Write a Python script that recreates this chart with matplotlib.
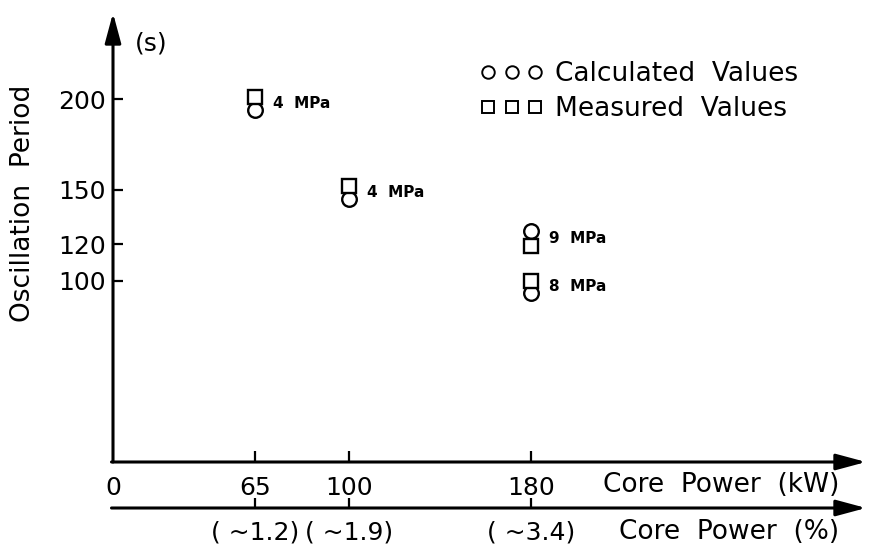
import numpy as np
import matplotlib.pyplot as plt
from matplotlib.lines import Line2D

# core power (kW), relative power labels and pressure at each operating point
power_kw = [65, 100, 180, 180]
pressure_labels = ['4  MPa', '4  MPa', '9  MPa', '8  MPa']
measured = [201, 152, 119, 100]      # oscillation period (s), squares
calculated = [194, 145, 127, 93]     # oscillation period (s), circles

kw_ticks = [0, 65, 100, 180]
pct_ticks = [65, 100, 180]
pct_labels = ['( ~1.2)', '( ~1.9)', '( ~3.4)']
period_ticks = [100, 120, 150, 200]

plt.rcParams['font.family'] = ['DejaVu Sans']
plt.rcParams['font.size'] = 18

W, H = 869, 549
fig = plt.figure(figsize=(W / 100, H / 100), dpi=100)

# power axis is hand-spaced: piecewise linear between the drawn ticks
kw_knots = [0, 65, 100, 180, 325]
pos_knots = [0, 142, 236, 418, 753]
def kw_fwd(v):
    return np.interp(v, kw_knots, pos_knots)
def kw_inv(p):
    return np.interp(p, pos_knots, kw_knots)

# main axes: origin at pixel (113, 462)
x0, y0, x1, y1 = 113, 462, 866, 13
ax = fig.add_axes([x0 / W, 1 - y0 / H, (x1 - x0) / W, (y0 - y1) / H])
ax.set_xscale('function', functions=(kw_fwd, kw_inv))
ax.set_xlim(0, 325)
ax.set_ylim(0, (y0 - y1) / 1.815)
for s in ax.spines.values():
    s.set_visible(False)

arrow = dict(arrowstyle='-|>,head_length=1.3,head_width=0.35', mutation_scale=14,
             lw=2.2, color='k', shrinkA=0, shrinkB=0)
ax.annotate('', xy=(0, 1), xytext=(0, 0), xycoords='axes fraction', arrowprops=arrow)
ax.annotate('', xy=(1, 0), xytext=(-0.002, 0), xycoords='axes fraction', arrowprops=arrow)

ax.set_xticks(kw_ticks)
ax.set_xticklabels([str(v) for v in kw_ticks])
ax.set_xticks([], minor=True)
ax.set_yticks(period_ticks)
ax.set_yticklabels([str(v) for v in period_ticks])
ax.tick_params(axis='x', direction='in', length=8, width=1.6, pad=10)
ax.tick_params(axis='y', direction='in', length=7, width=1.6, pad=5)
ax.xaxis.get_major_ticks()[0].tick1line.set_visible(False)

# data points: measured squares sitting on top of calculated circles
ax.plot(power_kw, calculated, 'o', ms=10.5, mfc='white', mec='k', mew=1.7, ls='none')
ax.plot(power_kw, measured, 's', ms=9.5, mfc='white', mec='k', mew=1.7, ls='none')
for x, m, c, lab in zip(power_kw, measured, calculated, pressure_labels):
    ax.annotate(lab, xy=(x, (m + c) / 2), xytext=(13, 0), textcoords='offset points',
                va='center', ha='left', fontsize=11, fontweight='bold')

# legend
handles = [Line2D([], [], marker='o', ls='none', ms=9, mfc='white', mec='k', mew=1.4),
           Line2D([], [], marker='s', ls='none', ms=9, mfc='white', mec='k', mew=1.4)]
ax.legend(handles, ['Calculated  Values', 'Measured  Values'], numpoints=3,
          frameon=False, loc='upper left', bbox_to_anchor=(480 / W, 1 - 61 / H),
          bbox_transform=fig.transFigure, handlelength=2.4, handletextpad=0.45,
          labelspacing=0.35, borderaxespad=0, borderpad=0, fontsize=19)

fig.text(135 / W, 1 - 43 / H, '(s)', va='center', ha='left')
fig.text(23 / W, 1 - 203 / H, 'Oscillation  Period', rotation=90, va='center', ha='center',
         fontsize=19)
fig.text(839 / W, 1 - 485 / H, 'Core  Power  (kW)', va='center', ha='right', fontsize=19)

# second power axis in percent of rated power
ax2 = fig.add_axes([x0 / W, 1 - 508 / H, (x1 - x0) / W, 0.0005])
ax2.set_xscale('function', functions=(kw_fwd, kw_inv))
ax2.set_xlim(0, 325)
ax2.set_ylim(0, 1)
for s in ax2.spines.values():
    s.set_visible(False)
ax2.set_yticks([])
ax2.annotate('', xy=(1, 0), xytext=(-0.002, 0), xycoords='axes fraction', arrowprops=arrow)
ax2.set_xticks(pct_ticks)
ax2.set_xticklabels(pct_labels)
ax2.set_xticks([], minor=True)
ax2.tick_params(axis='x', direction='in', length=7, width=1.6, pad=9)
fig.text(839 / W, 1 - 532 / H, 'Core  Power  (%)', va='center', ha='right', fontsize=19)

fig.savefig('out.png', dpi=100)
